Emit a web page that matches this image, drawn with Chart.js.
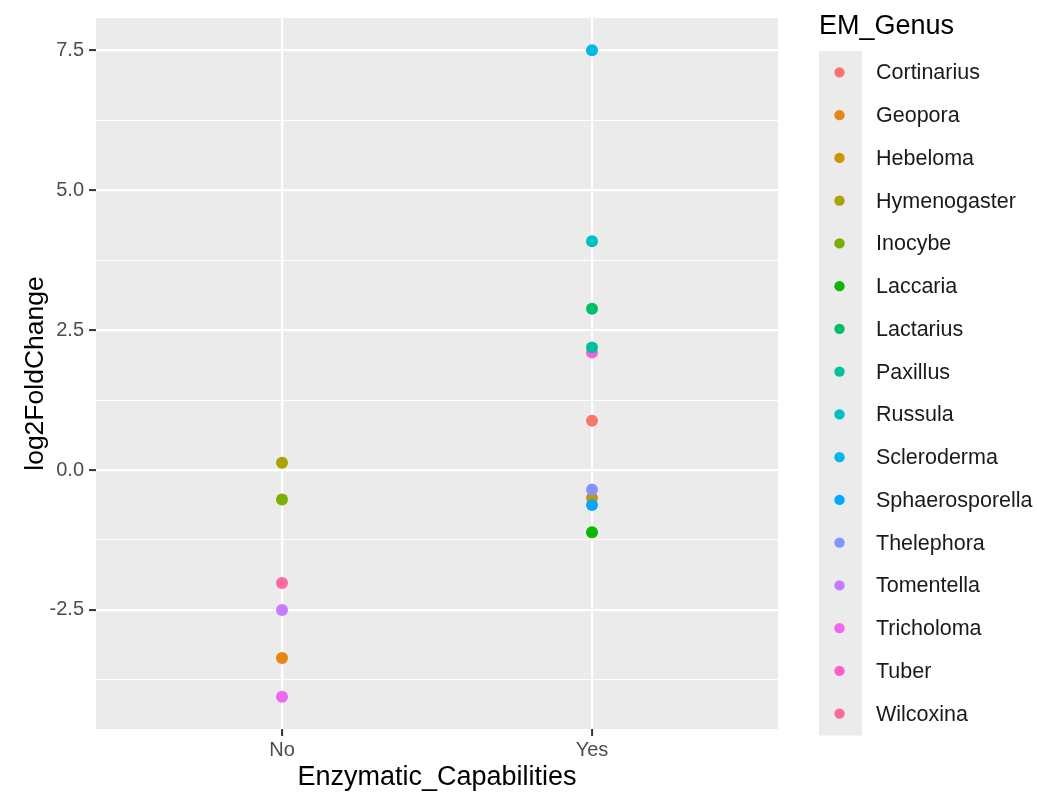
<!DOCTYPE html>
<html>
<head>
<meta charset="utf-8">
<title>log2FoldChange by Enzymatic_Capabilities</title>
<script src="https://cdn.jsdelivr.net/npm/chart.js@4.4.1/dist/chart.umd.min.js"></script>
<style>
  html, body { margin: 0; padding: 0; background: #ffffff; }
  #wrap { width: 1037px; height: 795px; position: relative; }
</style>
</head>
<body>
<div id="wrap"><canvas id="chart"></canvas></div>
<script>
// Categories on the x axis
const capabilities = ["No", "Yes"];

// Genera (legend order) and their colours
const genera = ["Cortinarius", "Geopora", "Hebeloma", "Hymenogaster", "Inocybe", "Laccaria",
  "Lactarius", "Paxillus", "Russula", "Scleroderma", "Sphaerosporella", "Thelephora",
  "Tomentella", "Tricholoma", "Tuber", "Wilcoxina"];
const genusColors = ["#F8766D", "#E68613", "#CD9600", "#ABA300", "#7CAE00", "#0CB702",
  "#00BE67", "#00C19A", "#00BFC4", "#00B8E7", "#00A9FF", "#8494FF",
  "#C77CFF", "#ED68ED", "#FF61CC", "#FF68A1"];

// Capability group of each genus and its log2 fold change
const genusCapability = ["Yes", "No", "Yes", "No", "No", "Yes",
  "Yes", "Yes", "Yes", "Yes", "Yes", "Yes",
  "No", "No", "Yes", "No"];
const log2FoldChange = [0.88, -3.36, -0.50, 0.13, -0.525, -1.11,
  2.88, 2.19, 4.09, 7.50, -0.625, -0.35,
  -2.50, -4.05, 2.10, -2.02];

// y axis breaks
const majorTicks = [-2.5, 0.0, 2.5, 5.0, 7.5];
const minorTicks = [-3.75, -1.25, 1.25, 3.75, 6.25];

const FONT = "'Liberation Sans', Arial, Helvetica, sans-serif";
const TEXT_SIZE = 21.5;
const TICK_SIZE = 20;
const TITLE_SIZE = 27;

const datasets = genera.map((g, i) => ({
  label: g,
  data: [{ x: capabilities.indexOf(genusCapability[i]) + 1, y: log2FoldChange[i] }],
  backgroundColor: genusColors[i],
  borderColor: genusColors[i],
  borderWidth: 0,
  pointRadius: 6,
  pointHoverRadius: 6,
  order: g === "Hebeloma" ? 100 : i
}));

// Grey panel behind the grid
const panelBackground = {
  id: "panelBackground",
  beforeDraw(chart) {
    const { ctx, chartArea: a } = chart;
    ctx.save();
    ctx.fillStyle = "#ffffff";
    ctx.fillRect(0, 0, chart.width, chart.height);
    ctx.fillStyle = "#EBEBEB";
    ctx.fillRect(a.left, a.top, a.right - a.left, a.bottom - a.top);
    ctx.restore();
  }
};

// Legend on the right with a grey key column
const genusLegend = {
  id: "genusLegend",
  afterDraw(chart) {
    const { ctx } = chart;
    const x0 = 819, keyW = 43, top = 51, step = 42.75;
    const sets = chart.data.datasets;
    ctx.save();
    ctx.fillStyle = "#000000";
    ctx.font = TITLE_SIZE + "px " + FONT;
    ctx.textAlign = "left";
    ctx.textBaseline = "middle";
    ctx.fillText("EM_Genus", x0, 27);
    ctx.fillStyle = "#EBEBEB";
    ctx.fillRect(x0, top, keyW, step * sets.length + 0.5);
    ctx.font = TEXT_SIZE + "px " + FONT;
    sets.forEach((ds, i) => {
      const cy = top + step * i + step / 2;
      ctx.beginPath();
      ctx.arc(x0 + keyW / 2 - 1, cy, 5.2, 0, Math.PI * 2);
      ctx.fillStyle = ds.backgroundColor;
      ctx.fill();
      ctx.fillStyle = "#1A1A1A";
      ctx.fillText(ds.label, 876, cy + 1);
    });
    ctx.restore();
  }
};

const isMajor = v => majorTicks.some(m => Math.abs(m - v) < 1e-9);

new Chart(document.getElementById("chart"), {
  type: "scatter",
  data: { datasets },
  options: {
    responsive: true,
    maintainAspectRatio: false,
    animation: false,
    layout: { padding: { left: 0, top: 18, right: 259, bottom: 0 } },
    plugins: {
      legend: { display: false },
      tooltip: { enabled: false }
    },
    scales: {
      x: {
        type: "linear",
        min: 0.4,
        max: 2.6,
        afterBuildTicks(scale) {
          scale.ticks = capabilities.map((c, i) => ({ value: i + 1 }));
        },
        afterFit(scale) { scale.height = 66; },
        ticks: {
          callback: v => capabilities[Math.round(v) - 1] || "",
          color: "#4D4D4D",
          font: { family: FONT, size: TICK_SIZE },
          padding: 2,
          maxRotation: 0
        },
        grid: {
          color: "#ffffff",
          lineWidth: 2.2,
          drawTicks: true,
          tickLength: 7,
          tickColor: "#333333",
          tickWidth: 2
        },
        border: { display: false },
        title: {
          display: true,
          text: "Enzymatic_Capabilities",
          color: "#000000",
          font: { family: FONT, size: TITLE_SIZE },
          padding: { top: 0, bottom: 1 }
        }
      },
      y: {
        type: "linear",
        min: -4.6275,
        max: 8.0775,
        afterBuildTicks(scale) {
          scale.ticks = majorTicks.concat(minorTicks).sort((a, b) => a - b).map(v => ({ value: v }));
        },
        afterFit(scale) { scale.width = 96; },
        ticks: {
          callback: v => (isMajor(v) ? v.toFixed(1) : ""),
          color: "#4D4D4D",
          font: { family: FONT, size: TICK_SIZE },
          padding: 5
        },
        grid: {
          color: "#ffffff",
          lineWidth: c => (isMajor(c.tick.value) ? 2.2 : 1.1),
          drawTicks: true,
          tickLength: 7,
          tickColor: c => (isMajor(c.tick.value) ? "#333333" : "rgba(0,0,0,0)"),
          tickWidth: 2
        },
        border: { display: false },
        title: {
          display: true,
          text: "log2FoldChange",
          color: "#000000",
          font: { family: FONT, size: 26.5 },
          padding: { top: 20, bottom: 0 }
        }
      }
    }
  },
  plugins: [panelBackground, genusLegend]
});
</script>
</body>
</html>
